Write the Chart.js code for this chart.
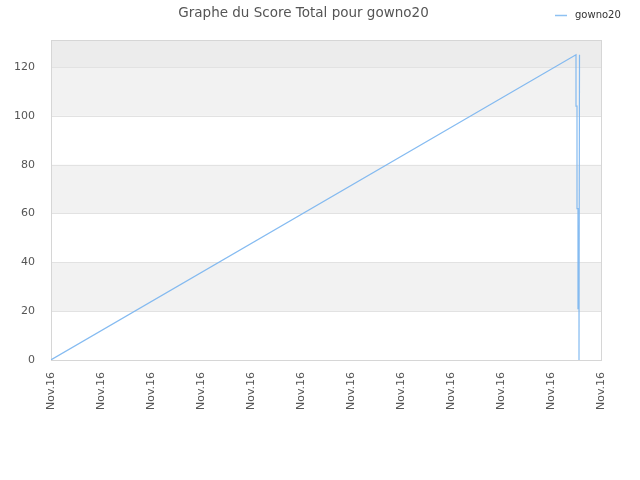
<!DOCTYPE html>
<html>
<head>
<meta charset="utf-8">
<script src="https://cdn.jsdelivr.net/npm/chart.js@4"></script>
<style>
  html, body { margin: 0; padding: 0; background: #fff; }
  #wrap { width: 640px; height: 480px; }
</style>
</head>
<body>
<div id="wrap"><canvas id="chart"></canvas></div>
<script>
// values
const playerName = 'gowno20';
const xTickLabels = ['Nov.16', 'Nov.16', 'Nov.16', 'Nov.16', 'Nov.16', 'Nov.16',
                     'Nov.16', 'Nov.16', 'Nov.16', 'Nov.16', 'Nov.16', 'Nov.16'];
const scoreX = [0, 10.50, 10.50, 10.52, 10.52, 10.54, 10.54, 10.56, 10.56, 10.57];
const scoreY = [0, 125, 104, 104, 62, 62, 21, 21, 0, 125];

const points = scoreX.map((x, i) => ({ x, y: scoreY[i] }));

// striped background + frame + legend in the top right corner
const decor = {
    id: 'decor',
    beforeDatasetsDraw(chart) {
        const { ctx, chartArea: a, scales: { y } } = chart;
        ctx.save();
        const bands = [[20, 40, '#f2f2f2'], [60, 80, '#f2f2f2'], [100, 120, '#f2f2f2'], [120, y.max, '#ececec']];
        bands.forEach(([lo, hi, c]) => {
            const top = y.getPixelForValue(hi), bot = y.getPixelForValue(lo);
            ctx.fillStyle = c;
            ctx.fillRect(a.left, top, a.right - a.left, bot - top);
        });
        ctx.strokeStyle = '#e2e2e2';
        ctx.lineWidth = 1;
        [20, 40, 60, 80, 100, 120].forEach(v => {
            const py = Math.round(y.getPixelForValue(v)) + 0.5;
            ctx.beginPath();
            ctx.moveTo(a.left, py);
            ctx.lineTo(a.right, py);
            ctx.stroke();
        });
        ctx.strokeStyle = '#d6d6d6';
        ctx.strokeRect(Math.round(a.left) + 0.5, Math.round(a.top) + 0.5,
                       Math.round(a.right - a.left), Math.round(a.bottom - a.top));
        ctx.restore();
    },
    afterDraw(chart) {
        const ctx = chart.ctx;
        ctx.save();
        ctx.strokeStyle = '#8ec1f2';
        ctx.lineWidth = 1.5;
        ctx.beginPath();
        ctx.moveTo(555, 15.5);
        ctx.lineTo(567, 15.5);
        ctx.stroke();
        ctx.fillStyle = '#333';
        ctx.font = '10px "DejaVu Sans"';
        ctx.textBaseline = 'middle';
        ctx.fillText(playerName, 575, 15);
        ctx.restore();
    }
};

new Chart(document.getElementById('chart'), {
    type: 'line',
    data: {
        datasets: [{
            label: playerName,
            data: points,
            borderColor: 'rgba(120,180,240,0.9)',
            borderWidth: 1.2,
            pointRadius: 0,
            tension: 0,
            fill: false
        }]
    },
    options: {
        responsive: true,
        maintainAspectRatio: false,
        animation: false,
        layout: { padding: { left: 6, right: 39, top: 0, bottom: 66 } },
        scales: {
            x: {
                type: 'linear',
                min: 0,
                max: 11,
                grid: { display: false },
                border: { display: false },
                ticks: {
                    stepSize: 1,
                    autoSkip: false,
                    maxRotation: 90,
                    minRotation: 90,
                    padding: 4,
                    color: '#555',
                    font: { family: 'DejaVu Sans', size: 11 },
                    callback: (v) => xTickLabels[Math.round(v)]
                }
            },
            y: {
                min: 0,
                max: 131,
                grid: { display: false },
                border: { display: false },
                ticks: {
                    stepSize: 20,
                    padding: 8,
                    color: '#555',
                    font: { family: 'DejaVu Sans', size: 11 },
                    callback: (v) => (v % 20 === 0 ? v : '')
                }
            }
        },
        plugins: {
            legend: { display: false },
            tooltip: { enabled: false },
            title: {
                display: true,
                text: 'Graphe du Score Total pour gowno20',
                color: '#555',
                font: { family: 'DejaVu Sans', size: 13.5, weight: 'normal' },
                padding: { top: 5, bottom: 19 }
            }
        }
    },
    plugins: [decor]
});
</script>
</body>
</html>
